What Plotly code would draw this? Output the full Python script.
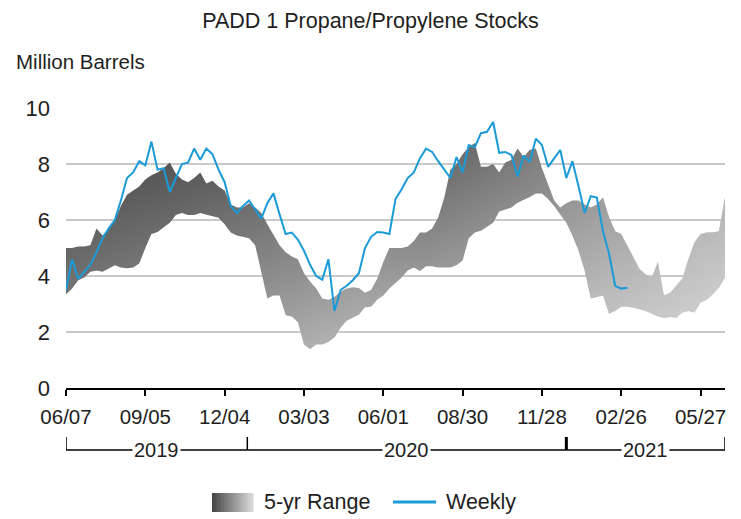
import plotly.graph_objects as go
import pandas as pd

# ---- data (million barrels) -------------------------------------------
START = "2019-06-07"

weekly = [
    3.50, 4.60, 3.90, 4.15, 4.40, 4.85, 5.35, 5.70, 6.00, 6.70,
    7.50, 7.70, 8.10, 7.95, 8.80, 7.80, 7.85, 7.00, 7.50, 8.00,
    8.05, 8.55, 8.15, 8.55, 8.35, 7.80, 7.35, 6.50, 6.25, 6.50,
    6.70, 6.35, 6.05, 6.60, 6.95, 6.20, 5.50, 5.55, 5.30, 4.90,
    4.40, 4.00, 3.87, 4.60, 2.75, 3.50, 3.65, 3.85, 4.10, 5.00,
    5.40, 5.57, 5.55, 5.50, 6.75, 7.10, 7.50, 7.70, 8.20, 8.55,
    8.43, 8.10, 7.80, 7.50, 8.25, 7.70, 8.68, 8.60, 9.10, 9.15,
    9.50, 8.40, 8.43, 8.32, 7.55, 8.30, 8.07, 8.90, 8.68, 7.90,
    8.20, 8.50, 7.50, 8.10, 7.20, 6.25, 6.85, 6.80, 5.60, 4.80,
    3.65, 3.55, 3.58,
]

range_high = [
    5.00, 5.00, 5.05, 5.05, 5.10, 5.70, 5.45, 5.65, 6.00, 6.50,
    6.90, 7.05, 7.20, 7.45, 7.60, 7.70, 7.85, 8.05, 7.65, 7.45,
    7.35, 7.50, 7.70, 7.30, 7.40, 7.20, 7.05, 6.55, 6.45, 6.45,
    6.60, 6.45, 6.25, 5.85, 5.50, 5.10, 4.85, 4.70, 4.60, 4.10,
    3.80, 3.55, 3.20, 3.15, 3.25, 3.45, 3.55, 3.60, 3.57, 3.40,
    3.50, 3.90, 4.50, 5.00, 5.00, 5.00, 5.05, 5.25, 5.55, 5.55,
    5.70, 6.10, 6.80, 7.80, 8.00, 8.35, 8.60, 8.75, 7.90, 7.90,
    8.00, 7.70, 8.05, 8.15, 8.55, 8.25, 8.50, 8.55, 7.85, 7.30,
    6.70, 6.45, 6.60, 6.70, 6.70, 6.55, 6.45, 6.55, 6.80, 6.10,
    5.60, 5.50, 5.10, 4.65, 4.25, 4.05, 3.95, 4.50, 3.30, 3.40,
    3.65, 3.90, 4.60, 5.20, 5.50, 5.55, 5.55, 5.60, 6.80,
]

range_low = [
    3.35, 3.55, 3.85, 3.95, 4.15, 4.20, 4.15, 4.28, 4.38, 4.30,
    4.28, 4.30, 4.45, 5.00, 5.50, 5.57, 5.75, 5.90, 6.18, 6.25,
    6.18, 6.18, 6.25, 6.20, 6.15, 6.08, 5.85, 5.55, 5.45, 5.40,
    5.35, 5.10, 4.20, 3.20, 3.30, 3.30, 2.60, 2.55, 2.35, 1.55,
    1.38, 1.55, 1.55, 1.64, 1.80, 2.15, 2.40, 2.52, 2.62, 2.88,
    2.90, 3.15, 3.30, 3.55, 3.75, 3.95, 4.20, 4.30, 4.18, 4.35,
    4.35, 4.30, 4.30, 4.30, 4.38, 4.55, 5.35, 5.55, 5.62, 5.75,
    5.90, 6.30, 6.38, 6.45, 6.62, 6.72, 6.82, 6.95, 6.95, 6.75,
    6.50, 6.20, 5.90, 5.45, 4.90, 4.20, 3.20, 3.25, 3.30, 2.65,
    2.75, 2.90, 2.90, 2.87, 2.82, 2.75, 2.65, 2.55, 2.50, 2.54,
    2.50, 2.70, 2.75, 2.70, 3.05, 3.15, 3.35, 3.58, 3.95,
]

tick_labels = ["06/07", "09/05", "12/04", "03/03", "06/01",
               "08/30", "11/28", "02/26", "05/27"]
years = ["2019", "2020", "2021"]
year_edges = ["2019-06-07", "2020-01-01", "2021-01-01", "2021-07-02"]

# ---- derived dates ------------------------------------------------------
range_dates = pd.date_range(START, periods=len(range_high), freq="7D")
weekly_dates = range_dates[:len(weekly)]
tick_dates = pd.date_range(START, periods=len(tick_labels), freq="91D")

# ---- page geometry --------------------------------------------------------
W, H = 741, 519
ML, MR, MT, MB = 66, 16, 108, 131
PW, PH = W - ML - MR, H - MT - MB


def px_x(px):
    return (px - ML) / PW


def px_y(py):
    return (H - MB - py) / PH


FONT = "Liberation Sans, Arial, sans-serif"
TXT = "#1e1e1e"
BLUE = "#1a9bd7"

fig = go.Figure()

# 5-year range band: vertical grey ramp ...
fig.add_trace(go.Scatter(x=range_dates, y=range_low, mode="lines",
                         line=dict(width=0), hoverinfo="skip", showlegend=False))
fig.add_trace(go.Scatter(
    x=range_dates, y=range_high, mode="lines", line=dict(width=0),
    fill="tonexty",
    fillgradient=dict(type="vertical", start=1.0, stop=10.0,
                      colorscale=[[0, "rgb(190,190,190)"], [1, "rgb(80,80,80)"]]),
    hoverinfo="skip", showlegend=False))
# ... with a left-dark / right-light tint on top
fig.add_trace(go.Scatter(x=range_dates, y=range_low, mode="lines",
                         line=dict(width=0), hoverinfo="skip", showlegend=False))
fig.add_trace(go.Scatter(
    x=range_dates, y=range_high, mode="lines", line=dict(width=0),
    fill="tonexty",
    fillgradient=dict(type="horizontal",
                      colorscale=[[0, "rgba(0,0,0,0.28)"],
                                  [0.45, "rgba(0,0,0,0)"],
                                  [0.55, "rgba(255,255,255,0)"],
                                  [1, "rgba(255,255,255,0.45)"]]),
    hoverinfo="skip", showlegend=False))

# weekly stocks
fig.add_trace(go.Scatter(x=weekly_dates, y=weekly, mode="lines",
                         line=dict(color=BLUE, width=2),
                         hoverinfo="skip", showlegend=False))

shapes = []
annotations = []

# year brackets under the date axis
y_line = px_y(450)
y_top = px_y(437)
shapes.append(dict(type="line", xref="x", yref="paper",
                   x0=year_edges[0], x1=year_edges[-1], y0=y_line, y1=y_line,
                   line=dict(color="#000", width=1.5)))
for i, edge in enumerate(year_edges):
    thick = 3 if i == 2 else 1.5
    shapes.append(dict(type="line", xref="x", yref="paper",
                       x0=edge, x1=edge, y0=y_top, y1=y_line,
                       line=dict(color="#000", width=thick)))
for i, yr in enumerate(years):
    a = pd.Timestamp(year_edges[i])
    b = pd.Timestamp(year_edges[i + 1])
    mid = a + (b - a) / 2
    annotations.append(dict(x=mid, y=y_line, xref="x", yref="paper",
                            text=yr, showarrow=False, bgcolor="white",
                            borderpad=1, xanchor="center", yanchor="middle",
                            font=dict(family=FONT, size=20, color=TXT)))

# legend
sw_x0, sw_x1, sw_y0, sw_y1 = 212, 253, 493, 512
n = 24
for k in range(n):
    t = k / (n - 1)
    g = int(round(72 + t * (215 - 72)))
    xa = sw_x0 + (sw_x1 - sw_x0) * k / n
    xb = sw_x0 + (sw_x1 - sw_x0) * (k + 1) / n + 0.6
    shapes.append(dict(type="rect", xref="paper", yref="paper",
                       x0=px_x(xa), x1=px_x(xb), y0=px_y(sw_y1), y1=px_y(sw_y0),
                       fillcolor=f"rgb({g},{g},{g})", line=dict(width=0)))
annotations.append(dict(x=px_x(262), y=px_y(502), xref="paper", yref="paper",
                        text="5-yr Range", showarrow=False, xanchor="left",
                        yanchor="middle", font=dict(family=FONT, size=21.5, color=TXT)))
shapes.append(dict(type="line", xref="paper", yref="paper",
                   x0=px_x(393), x1=px_x(436), y0=px_y(502), y1=px_y(502),
                   line=dict(color=BLUE, width=3)))
annotations.append(dict(x=px_x(444), y=px_y(502), xref="paper", yref="paper",
                        text="Weekly", showarrow=False, xanchor="left",
                        yanchor="middle", font=dict(family=FONT, size=21.5, color=TXT)))

# unit label
annotations.append(dict(x=px_x(14), y=px_y(62), xref="paper", yref="paper",
                        text="Million Barrels", showarrow=False, xanchor="left",
                        yanchor="middle", font=dict(family=FONT, size=20.5, color=TXT)))

fig.update_layout(
    width=W, height=H,
    margin=dict(l=ML, r=MR, t=MT, b=MB, pad=0),
    paper_bgcolor="white", plot_bgcolor="white",
    title=dict(text="PADD 1 Propane/Propylene Stocks", x=0.5, xref="container",
               xanchor="center", y=1 - 20 / H, yref="container", yanchor="middle",
               font=dict(family=FONT, size=21.5, color=TXT)),
    xaxis=dict(type="date", range=[range_dates[0], range_dates[-1]],
               tickvals=tick_dates, ticktext=tick_labels,
               ticks="outside", ticklen=6, tickwidth=1.5, tickcolor="#000",
               showline=True, linecolor="#000", linewidth=2,
               showgrid=False, zeroline=False, ticklabelstandoff=3,
               tickfont=dict(family=FONT, size=20.5, color=TXT)),
    yaxis=dict(range=[0, 10], tickvals=[0, 2, 4, 6, 8, 10],
               showgrid=True, gridcolor="#c9c9c9", gridwidth=1.5,
               zeroline=False, showline=False, ticks="",
               ticklabelstandoff=15,
               tickfont=dict(family=FONT, size=22, color=TXT)),
    shapes=shapes, annotations=annotations,
    showlegend=False,
)

fig.write_html("out.html")
